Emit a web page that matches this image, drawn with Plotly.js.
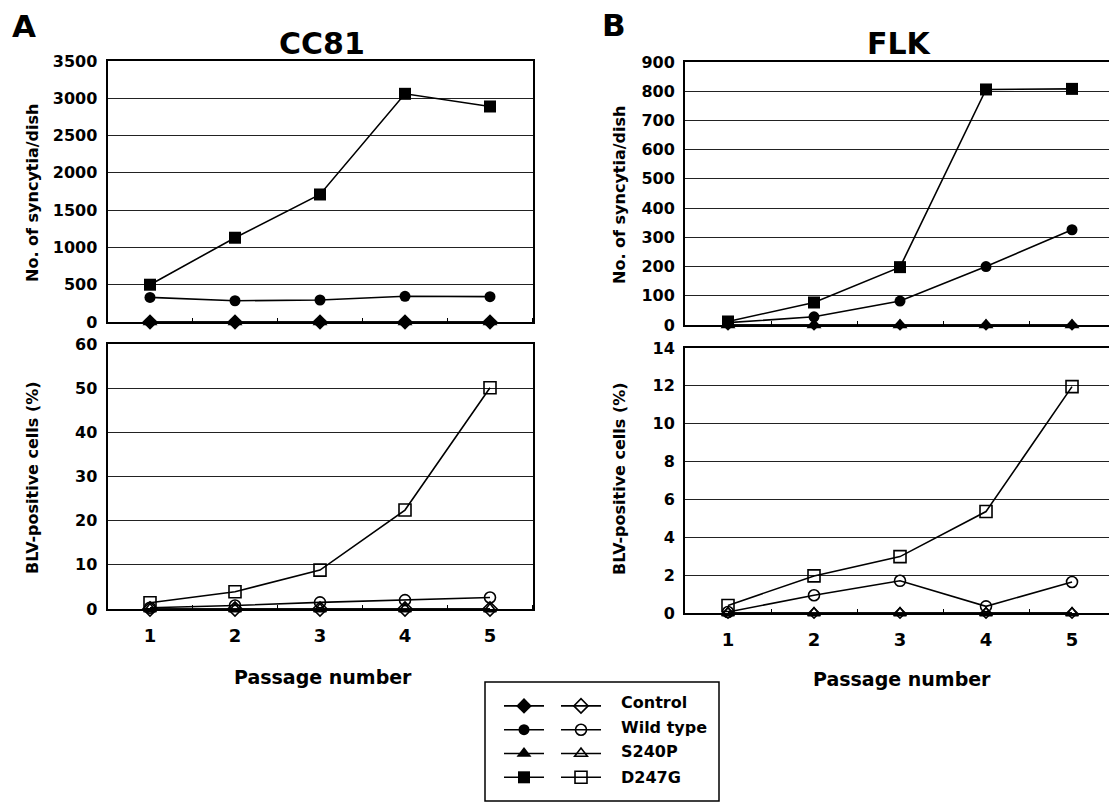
<!DOCTYPE html>
<html>
<head>
<meta charset="utf-8">
<script src="https://cdn.plot.ly/plotly-3.0.1.min.js"></script>
<style>
  html, body { margin: 0; padding: 0; background: #fff; }
  #chart { width: 1109px; height: 802px; }
</style>
</head>
<body>
<div id="chart"></div>
<script>
// ---------- data ----------
const passages = [1, 2, 3, 4, 5];
const groups = ["Control", "Wild type", "S240P", "D247G"];
const filledSymbols = ["diamond", "circle", "triangle-up", "square"];
const openSymbols = ["diamond-open", "circle-open", "triangle-up-open", "square-open"];

// Panel A: CC81
const cc81Syncytia = {
  "Control":   [0, 0, 0, 0, 0],
  "Wild type": [330, 285, 295, 345, 340],
  "S240P":     [0, 0, 0, 0, 0],
  "D247G":     [500, 1130, 1710, 3060, 2890]
};
const cc81BLV = {
  "Control":   [0, 0, 0, 0, 0],
  "Wild type": [0.3, 0.8, 1.5, 2.0, 2.6],
  "S240P":     [0, 0, 0, 0, 0],
  "D247G":     [1.4, 3.9, 8.8, 22.4, 50.1]
};
// Panel B: FLK
const flkSyncytia = {
  "Control":   [0, 0, 0, 0, 0],
  "Wild type": [8, 28, 82, 200, 326],
  "S240P":     [0, 0, 0, 0, 0],
  "D247G":     [12, 77, 198, 806, 808]
};
const flkBLV = {
  "Control":   [0, 0, 0, 0, 0],
  "Wild type": [0.05, 0.94, 1.7, 0.35, 1.64],
  "S240P":     [0, 0, 0, 0, 0],
  "D247G":     [0.4, 1.96, 2.98, 5.36, 11.96]
};

const panelTitles = ["CC81", "FLK"];
const panelLetters = ["A", "B"];
const yTitleTop = "No. of syncytia/dish";
const yTitleBottom = "BLV-positive cells (%)";
const xTitle = "Passage number";

// ---------- geometry helpers ----------
const W = 1109, H = 802;
const fx = v => v / W;
const fy = v => 1 - v / H;
const FONT = "DejaVu Sans, Liberation Sans, Arial, sans-serif";
const BOLD = s => "<b>" + s + "</b>";

const markerSize = {"Control": 9, "Wild type": 11, "S240P": 13, "D247G": 12};
const openSize = {"Control": 8, "Wild type": 11, "S240P": 11, "D247G": 12};

const traces = [];
function addPanel(dataset, xa, ya, filled, legendId) {
  groups.forEach((g, i) => {
    const t = {
      type: "scatter",
      mode: "lines+markers",
      x: passages,
      y: dataset[g],
      xaxis: xa,
      yaxis: ya,
      cliponaxis: false,
      line: {color: "#000", width: 1.6},
      marker: filled
        ? {symbol: filledSymbols[i], size: legendId ? (g === "Control" ? 12 : markerSize[g]) : markerSize[g], color: "#000", line: {color: "#000", width: 0}}
        : {symbol: openSymbols[i], size: legendId ? (g === "Control" ? 11 : openSize[g]) : openSize[g], color: "#000", line: {color: "#000", width: 1.6}},
      name: "\u00a0",
      legendgroup: g + (filled ? "-f" : "-o"),
      showlegend: !!legendId,
      hoverinfo: "x+y"
    };
    if (legendId) t.legend = legendId;
    traces.push(t);
  });
}
addPanel(cc81Syncytia, "x", "y", true, "legend");
addPanel(cc81BLV, "x2", "y2", false, "legend2");
addPanel(flkSyncytia, "x3", "y3", true, null);
addPanel(flkBLV, "x4", "y4", false, null);

// ---------- axes ----------
const tickFont = {family: FONT, size: 16, color: "#000"};
function xAxis(domain, range, anchor, labels) {
  return {
    domain: domain, range: range, anchor: anchor,
    tickmode: "array", tickvals: passages,
    ticktext: passages.map(p => BOLD(String(p))),
    showticklabels: labels, ticks: "",
    tickfont: {family: FONT, size: 18, color: "#000"},
    ticklabelstandoff: 9,
    minor: {tickmode: "array", tickvals: [1.5, 2.5, 3.5, 4.5, 5.5], ticks: "inside", ticklen: 4, tickcolor: "#000", tickwidth: 1, showgrid: false},
    showline: true, linecolor: "#000", linewidth: 2, mirror: true,
    showgrid: false, zeroline: false, fixedrange: true
  };
}
function yAxis(domain, max, dtick, anchor, mirror) {
  const vals = [];
  for (let v = 0; v <= max + 1e-9; v += dtick) vals.push(v);
  return {
    domain: domain, range: [0, max], anchor: anchor,
    tickmode: "array", tickvals: vals, ticktext: vals.map(v => BOLD(String(v))),
    tickfont: tickFont, ticks: "", ticklabelstandoff: 5,
    showline: true, linecolor: "#000", linewidth: 2, mirror: mirror,
    showgrid: true, gridcolor: "#222", gridwidth: 1,
    zeroline: false, fixedrange: true
  };
}

const leftDom = [fx(107.5), fx(532.5)];
const rightDom = [fx(685), 1];

const annotations = [];
// panel letters and titles
[[24, 26], [614, 25]].forEach((p, i) => {
  annotations.push({xref: "paper", yref: "paper", x: fx(p[0]), y: fy(p[1]), xanchor: "center", yanchor: "middle",
    text: BOLD(panelLetters[i]), showarrow: false, font: {family: FONT, size: 31, color: "#000"}});
});
[[322, 43], [899, 43]].forEach((p, i) => {
  annotations.push({xref: "paper", yref: "paper", x: fx(p[0]), y: fy(p[1]), xanchor: "center", yanchor: "middle",
    text: BOLD(panelTitles[i]), showarrow: false, font: {family: FONT, size: 30, color: "#000"}});
});
// y titles
[[33, 193, yTitleTop], [33, 478, yTitleBottom], [619, 195, yTitleTop], [619, 479, yTitleBottom]].forEach(p => {
  annotations.push({xref: "paper", yref: "paper", x: fx(p[0]), y: fy(p[1]), xanchor: "center", yanchor: "middle",
    textangle: -90, text: BOLD(p[2]), showarrow: false, font: {family: FONT, size: 16, color: "#000"}});
});
// x titles
[[323, 677], [902, 679]].forEach(p => {
  annotations.push({xref: "paper", yref: "paper", x: fx(p[0]), y: fy(p[1]), xanchor: "center", yanchor: "middle",
    text: BOLD(xTitle), showarrow: false, font: {family: FONT, size: 19, color: "#000"}});
});
// legend labels
const legendRows = [702, 727, 751, 777];
groups.forEach((g, i) => {
  annotations.push({xref: "paper", yref: "paper", x: fx(619), y: fy(legendRows[i]), xanchor: "left", yanchor: "middle",
    text: BOLD(g), showarrow: false, font: {family: FONT, size: 16, color: "#000"}});
});

const legendBase = {
  xanchor: "left", yanchor: "top", orientation: "v",
  bgcolor: "rgba(0,0,0,0)", borderwidth: 0,
  font: {family: FONT, size: 16, color: "#000"},
  itemwidth: 40, tracegroupgap: 1.2, traceorder: "normal",
  itemclick: false, itemdoubleclick: false
};

const layout = {
  width: W, height: H,
  margin: {l: 0, r: 0, t: 0, b: 0, pad: 0},
  paper_bgcolor: "#fff", plot_bgcolor: "#fff",
  font: {family: FONT, color: "#000"},
  showlegend: true,
  legend: Object.assign({}, legendBase, {x: fx(499), y: fy(689)}),
  legend2: Object.assign({}, legendBase, {x: fx(556), y: fy(689)}),
  xaxis: xAxis(leftDom, [0.5, 5.5], "y", false),
  yaxis: yAxis([fy(322), fy(61)], 3500, 500, "x", true),
  xaxis2: xAxis(leftDom, [0.5, 5.5], "y2", true),
  yaxis2: yAxis([fy(609), fy(344)], 60, 10, "x2", true),
  xaxis3: xAxis(rightDom, [0.5, 5.43], "y3", false),
  yaxis3: yAxis([fy(325), fy(62)], 900, 100, "x3", false),
  xaxis4: xAxis(rightDom, [0.5, 5.43], "y4", true),
  yaxis4: yAxis([fy(613), fy(348)], 14, 2, "x4", false),
  annotations: annotations,
  shapes: [
    {type: "rect", xref: "paper", yref: "paper", x0: fx(485), x1: fx(719), y0: fy(801), y1: fy(682),
     line: {color: "#000", width: 1.5}, fillcolor: "rgba(0,0,0,0)"}
  ]
};

Plotly.newPlot("chart", traces, layout, {staticPlot: true, displayModeBar: false});
</script>
</body>
</html>
